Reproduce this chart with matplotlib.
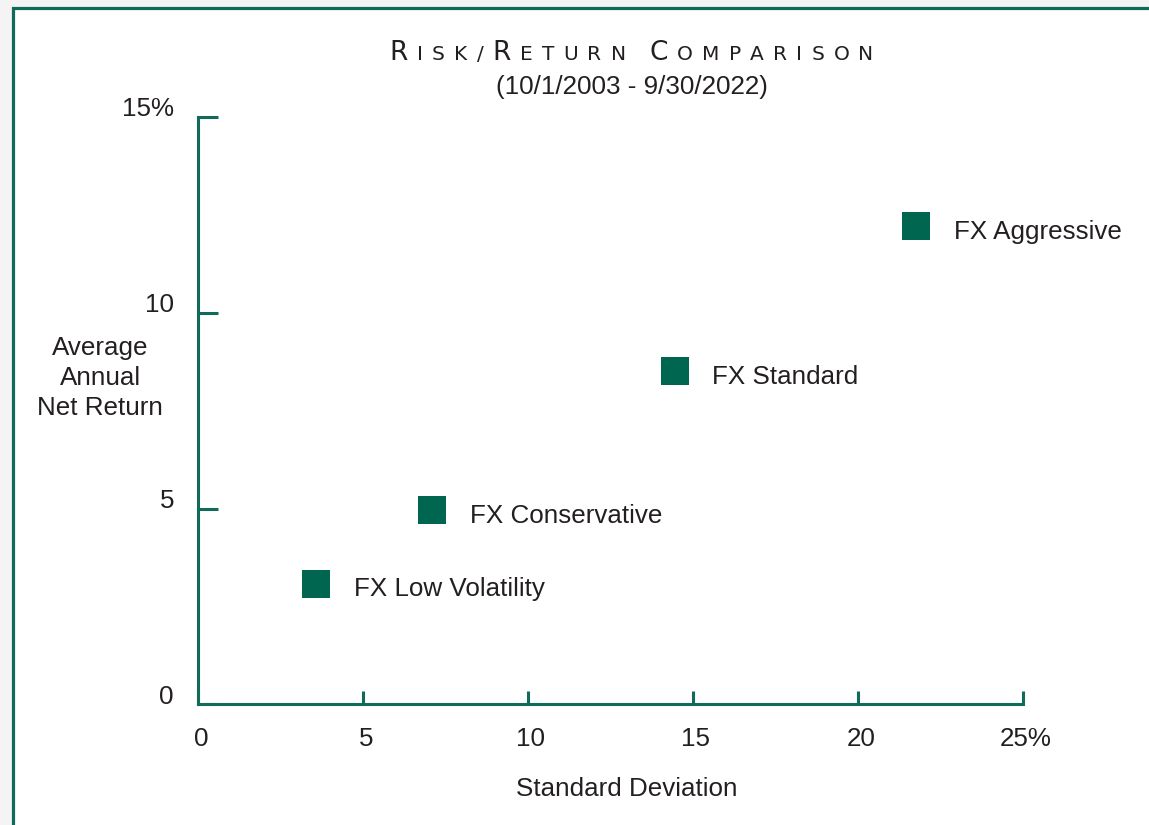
import numpy as np
import matplotlib.pyplot as plt
import matplotlib.transforms as mtransforms
from matplotlib.patches import Rectangle
from matplotlib.offsetbox import TextArea, HPacker, AnnotationBbox

# data
portfolios = ["FX Low Volatility", "FX Conservative", "FX Standard", "FX Aggressive"]
std_dev = [3.58, 7.10, 14.45, 21.78]
avg_return = [3.08, 4.96, 8.50, 12.22]
x_ticks = [0, 5, 10, 15, 20, 25]
x_tick_labels = ["0", "5", "10", "15", "20", "25%"]
y_ticks = [0, 5, 10, 15]
y_tick_labels = ["0", "5", "10", "15%"]

green = "#00664f"
axis_green = "#126b5a"
text_col = "#231f20"
fs = 18.7

plt.rcParams['font.family'] = ['Liberation Sans', 'DejaVu Sans']

fig = plt.figure(figsize=(11.49, 8.25), dpi=100)
fig.patch.set_facecolor("#f4f4f4")

# green frame around the chart
frame = Rectangle((12.5 / 1149, -0.05), 1.1, (825 - 8.5) / 825 + 0.05,
                  transform=fig.transFigure, facecolor="white",
                  edgecolor="#0e6b58", linewidth=2.3, zorder=-10)
fig.patches.append(frame)

ax = fig.add_axes([198 / 1149, 120.7 / 825, 824.7 / 1149, 587.3 / 825])
ax.set_facecolor("none")

ax.plot(std_dev, avg_return, linestyle="none", marker="s", markersize=19.5,
        markerfacecolor=green, markeredgewidth=0, clip_on=False)
for name, x, y in zip(portfolios, std_dev, avg_return):
    ax.annotate(name, (x, y), xytext=(27, -9.2), textcoords="offset points",
                ha="left", va="baseline", fontsize=fs, color=text_col)

ax.set_xlim(0, 25)
ax.set_ylim(0, 15)
ax.set_xticks(x_ticks)
ax.set_xticklabels(x_tick_labels)
ax.set_yticks(y_ticks)
ax.set_yticklabels(y_tick_labels)

for side in ["top", "right"]:
    ax.spines[side].set_visible(False)
for side in ["left", "bottom"]:
    ax.spines[side].set_color(axis_green)
    ax.spines[side].set_linewidth(2.2)
    ax.spines[side].set_capstyle("projecting")

ax.tick_params(axis="x", direction="in", length=9.4, width=2.2, color=axis_green,
               pad=16, labelsize=fs, labelcolor=text_col)
ax.tick_params(axis="y", direction="in", length=14.4, width=2.2, color=axis_green,
               pad=17.3, labelsize=fs, labelcolor=text_col)

# nudge tick labels like in the original
dx = mtransforms.ScaledTranslation(3 / 100, 0, fig.dpi_scale_trans)
dy = mtransforms.ScaledTranslation(0, 10 / 100, fig.dpi_scale_trans)
for lab in ax.get_xticklabels():
    lab.set_transform(lab.get_transform() + dx)
for lab in ax.get_yticklabels():
    lab.set_transform(lab.get_transform() + dy)

ax.set_ylabel("Average\nAnnual\nNet Return", rotation=0, ha="center", va="center",
              fontsize=fs, color=text_col, linespacing=1.33)
ax.yaxis.set_label_coords(-0.1188, 0.5556)
ax.set_xlabel("Standard Deviation", fontsize=fs, color=text_col, va="center")
ax.xaxis.set_label_coords(0.520, -0.144)

# small-caps title, letter by letter so it can be spaced out
big, small = 19, 14.5
title_words = ["Risk/Return", "Comparison"]
areas = []
for w, word in enumerate(title_words):
    if w > 0:
        areas.append(TextArea(" ", textprops=dict(fontsize=small)))
    for ch in word:
        size = big if ch.isupper() else small
        areas.append(TextArea(ch.upper(), textprops=dict(fontsize=size, color=text_col,
                                                         family="DejaVu Sans")))
title = HPacker(children=areas, align="baseline", pad=0, sep=6.6)
ab = AnnotationBbox(title, (631.5 / 1149, 1 - 63 / 825), xycoords="figure fraction",
                    box_alignment=(0.5, 0.1), frameon=False)
fig.add_artist(ab)

fig.text(631.5 / 1149, 1 - 87 / 825, "(10/1/2003 - 9/30/2022)", ha="center",
         va="center", fontsize=fs, color=text_col)

fig.savefig("out.png", dpi=100, facecolor=fig.get_facecolor())
